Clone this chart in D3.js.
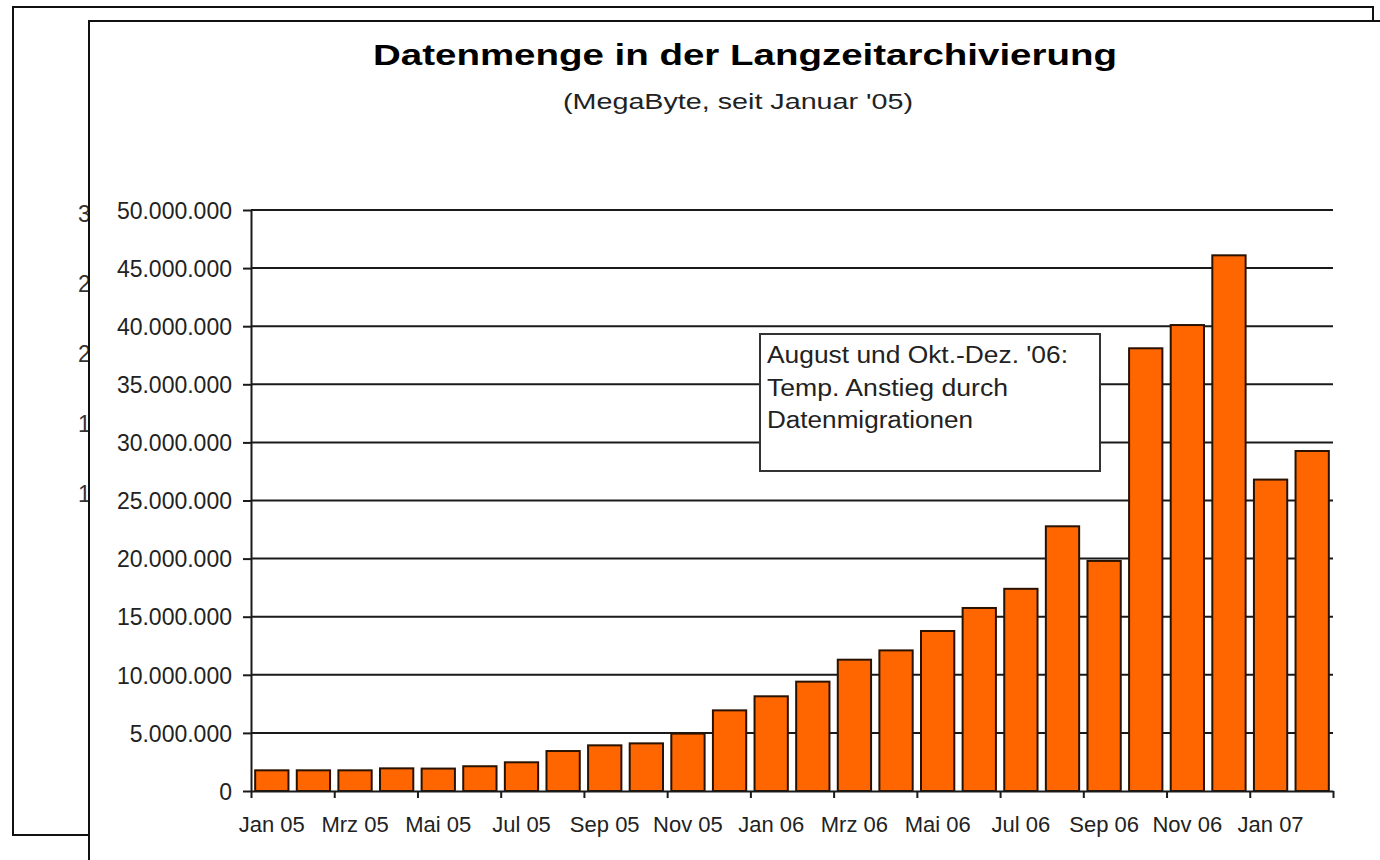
<!DOCTYPE html>
<html lang="de">
<head>
<meta charset="utf-8">
<title>Datenmenge in der Langzeitarchivierung</title>
<script src="https://cdn.jsdelivr.net/npm/d3@7/dist/d3.min.js"></script>
<style>
  body { margin: 0; background: #fff; }
  svg text { font-family: "Liberation Sans", Arial, sans-serif; }
</style>
</head>
<body>
<svg id="chart" width="1380" height="860"></svg>
<script>
// months Jan 05 .. Feb 07
var months = ["Jan 05","Feb 05","Mrz 05","Apr 05","Mai 05","Jun 05","Jul 05","Aug 05","Sep 05","Okt 05","Nov 05","Dez 05",
              "Jan 06","Feb 06","Mrz 06","Apr 06","Mai 06","Jun 06","Jul 06","Aug 06","Sep 06","Okt 06","Nov 06","Dez 06",
              "Jan 07","Feb 07"];
// MegaByte
var megabytes = [1780000,1780000,1780000,1950000,1930000,2130000,2470000,3440000,3930000,4100000,4940000,6940000,
                 8150000,9410000,11300000,12100000,13770000,15750000,17400000,22780000,19800000,38100000,40100000,46100000,
                 26800000,29260000];
var yTicks = [0,5000000,10000000,15000000,20000000,25000000,30000000,35000000,40000000,45000000,50000000];
// labels of the chart lying behind (mostly hidden by the front one)
var backTicks = ["30.000.000","25.000.000","20.000.000","15.000.000","10.000.000"];
var titleText = "Datenmenge in der Langzeitarchivierung";
var subtitleText = "(MegaByte, seit Januar '05)";
var noteLines = ["August und Okt.-Dez. '06:", "Temp. Anstieg durch", "Datenmigrationen"];

var svg = d3.select("#chart");
var de = d3.formatLocale({decimal: ",", thousands: ".", grouping: [3], currency: ["", " €"]});
var fmt = de.format(",d");

// stretch a text element horizontally to a measured width
function fitWidth(sel, w) {
  sel.attr("textLength", w).attr("lengthAdjust", "spacingAndGlyphs");
}

// ---- chart behind ----
svg.append("clipPath").attr("id", "backclip")
  .append("rect").attr("x", 13).attr("y", 7).attr("width", 76).attr("height", 828);
var back = svg.append("g");
back.append("rect").attr("x", 13).attr("y", 7).attr("width", 1360).attr("height", 828)
  .attr("fill", "#fff").attr("stroke", "#111").attr("stroke-width", 2);
var backY = d3.scalePoint().domain(backTicks).range([214, 494]);
back.append("g").attr("clip-path", "url(#backclip)")
  .selectAll("text").data(backTicks).enter().append("text")
  .attr("x", 78).attr("y", d => backY(d)).attr("dy", ".36em")
  .attr("fill", "#333").style("font-size", "23px")
  .text(d => d);

// ---- front chart ----
var front = svg.append("g");
front.append("rect").attr("x", 89).attr("y", 21).attr("width", 1320).attr("height", 860)
  .attr("fill", "#fff").attr("stroke", "#111").attr("stroke-width", 2);

var title = front.append("text").attr("x", 373).attr("y", 65)
  .attr("fill", "#000").style("font-size", "29px").style("font-weight", "bold").text(titleText);
fitWidth(title, 744);
var sub = front.append("text").attr("x", 563).attr("y", 109)
  .attr("fill", "#222").style("font-size", "22px").text(subtitleText);
fitWidth(sub, 350);

var x = d3.scaleBand().domain(months).range([251, 1333]).paddingInner(0.2).paddingOuter(0.1);
var edge = d3.scaleLinear().domain([0, months.length]).range(x.range());
var y = d3.scaleLinear().domain([0, 50000000]).range([791, 210]);

var plot = front.append("g");

// gridlines
plot.selectAll("line.grid").data(yTicks.filter(d => d > 0)).enter().append("line")
  .attr("class", "grid")
  .attr("x1", x.range()[0]).attr("x2", x.range()[1])
  .attr("y1", d => y(d)).attr("y2", d => y(d))
  .attr("stroke", "#1a1a1a").attr("stroke-width", 2);

// annotation box
var note = plot.append("g");
note.append("rect").attr("x", 760).attr("y", 334).attr("width", 340).attr("height", 137)
  .attr("fill", "#fff").attr("stroke", "#333").attr("stroke-width", 2);
var noteW = [301, 241, 206];
note.selectAll("text").data(noteLines).enter().append("text")
  .attr("x", 767).attr("y", (d, i) => 363 + i * 32.5)
  .attr("fill", "#222").style("font-size", "23px")
  .text(d => d)
  .each(function (d, i) { fitWidth(d3.select(this), noteW[i]); });

// bars
plot.selectAll("rect.bar").data(months).enter().append("rect")
  .attr("class", "bar")
  .attr("x", d => x(d)).attr("width", x.bandwidth())
  .attr("y", (d, i) => y(megabytes[i]))
  .attr("height", (d, i) => y(0) - y(megabytes[i]))
  .attr("fill", "#ff6600").attr("stroke", "#2a1200").attr("stroke-width", 2);

// y axis
var yAxis = d3.axisLeft(y).tickValues(yTicks).tickFormat(fmt).tickSize(8).tickSizeOuter(0).tickPadding(11);
var gy = plot.append("g").attr("transform", "translate(" + x.range()[0] + ",0)").call(yAxis);
gy.selectAll("text").style("font-size", "23px").attr("fill", "#222").attr("dy", ".36em");
gy.selectAll("line, path").attr("stroke", "#1a1a1a").attr("stroke-width", 2);

// x axis: tick marks at every second month boundary
var xTickAxis = d3.axisBottom(edge).tickValues(d3.range(0, months.length + 1, 2)).tickFormat("").tickSize(7).tickSizeOuter(0);
var gx = plot.append("g").attr("transform", "translate(0," + y(0) + ")").call(xTickAxis);
gx.selectAll("line, path").attr("stroke", "#1a1a1a").attr("stroke-width", 2);

// x labels under every second month
var xLabelAxis = d3.axisBottom(x).tickValues(months.filter((d, i) => i % 2 === 0)).tickSize(0).tickPadding(25);
var gxl = plot.append("g").attr("transform", "translate(0," + y(0) + ")").call(xLabelAxis);
gxl.select("path").remove();
gxl.selectAll("text").style("font-size", "22px").attr("fill", "#222");
</script>
</body>
</html>
